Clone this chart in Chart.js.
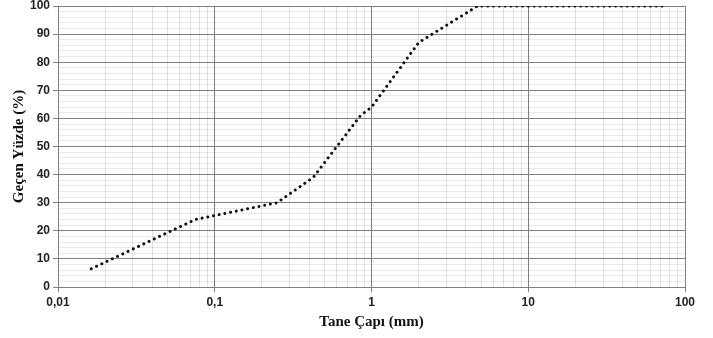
<!DOCTYPE html>
<html>
<head>
<meta charset="utf-8">
<script src="https://cdn.jsdelivr.net/npm/chart.js@4"></script>
<style>
    html, body { margin: 0; padding: 0; background: #fff; }
    #wrap { width: 713px; height: 338px; position: relative; }
</style>
</head>
<body>
<div id="wrap"><canvas id="gradChart"></canvas></div>
<script>
// grain size (mm) and percent passing
const grainSizes = [0.0163, 0.075, 0.25, 0.425, 0.85, 1, 2, 4.75, 75];
const percentPassing = [6.5, 24, 30, 39, 61, 64, 87, 100, 100];

const xMajorTicks = [0.01, 0.1, 1, 10, 100];
const xTickLabels = ['0,01', '0,1', '1', '10', '100'];
const yMajorTicks = [0, 10, 20, 30, 40, 50, 60, 70, 80, 90, 100];

// minor lines are translucent so they don't break the major lines they cross
const MAJOR_GRID = '#7f7f7f';
const MINOR_GRID_X = 'rgba(0,0,0,0.12)';
const MINOR_GRID_Y = 'rgba(0,0,0,0.085)';

const isMajorX = v => xMajorTicks.some(m => Math.abs(m - v) / m < 1e-6);
const isMajorY = v => yMajorTicks.includes(v);

// log grid: 1..9 per decade
const xGridValues = [];
for (let i = 0; i < xMajorTicks.length - 1; i++) {
    for (let d = 1; d <= 9; d++) xGridValues.push(+(xMajorTicks[i] * d).toPrecision(6));
}
xGridValues.push(xMajorTicks[xMajorTicks.length - 1]);

const yGridValues = [];
for (let v = 0; v <= 100; v += 2) yGridValues.push(v);

const tickFont = { family: '"Liberation Sans", Arial, sans-serif', size: 12, weight: 'bold' };
const titleFont = { family: '"Liberation Serif", "Times New Roman", serif', size: 15, weight: 'bold', lineHeight: 1 };

const ctx = document.getElementById('gradChart').getContext('2d');

new Chart(ctx, {
    type: 'line',
    data: {
        datasets: [{
            data: grainSizes.map((x, i) => ({ x: x, y: percentPassing[i] })),
            borderColor: '#111',
            borderWidth: 3,
            borderDash: [0.01, 5.8],
            borderCapStyle: 'round',
            pointRadius: 0,
            tension: 0,
            fill: false
        }]
    },
    options: {
        responsive: true,
        maintainAspectRatio: false,
        animation: false,
        events: [],
        layout: { padding: { left: 4, right: 0, top: 0, bottom: 4.6 } },
        plugins: {
            legend: { display: false },
            tooltip: { enabled: false }
        },
        scales: {
            x: {
                type: 'logarithmic',
                min: 0.01,
                max: 100,
                afterBuildTicks: scale => {
                    scale.ticks = xGridValues.map(v => ({ value: v }));
                },
                afterFit: scale => {
                    scale.paddingLeft = 0;
                    scale.paddingRight = 28;
                },
                ticks: {
                    autoSkip: false,
                    maxRotation: 0,
                    padding: 3,
                    color: '#222',
                    font: tickFont,
                    callback: v => {
                        const i = xMajorTicks.findIndex(m => Math.abs(m - v) / m < 1e-6);
                        return i >= 0 ? xTickLabels[i] : '';
                    }
                },
                grid: {
                    color: c => isMajorX(c.tick.value) ? MAJOR_GRID : MINOR_GRID_X,
                    tickColor: c => isMajorX(c.tick.value) ? MAJOR_GRID : 'rgba(0,0,0,0)',
                    tickLength: 5,
                    lineWidth: 1
                },
                border: { color: MAJOR_GRID },
                title: {
                    display: true,
                    text: 'Tane Çapı (mm)',
                    color: '#111',
                    font: titleFont,
                    padding: { top: 2, bottom: 4 }
                }
            },
            y: {
                min: 0,
                max: 100,
                afterBuildTicks: scale => {
                    scale.ticks = yGridValues.map(v => ({ value: v }));
                },
                afterFit: scale => {
                    scale.paddingTop = 6;
                    scale.paddingBottom = 0;
                },
                ticks: {
                    autoSkip: false,
                    padding: 3,
                    color: '#222',
                    font: tickFont,
                    callback: v => isMajorY(v) ? v : ''
                },
                grid: {
                    color: c => isMajorY(c.tick.value) ? MAJOR_GRID : MINOR_GRID_Y,
                    tickColor: c => isMajorY(c.tick.value) ? MAJOR_GRID : 'rgba(0,0,0,0)',
                    tickLength: 5,
                    lineWidth: 1
                },
                border: { color: MAJOR_GRID },
                title: {
                    display: true,
                    text: 'Geçen Yüzde (%)',
                    color: '#111',
                    font: titleFont,
                    padding: { top: 8, bottom: 0 }
                }
            }
        }
    }
});
</script>
</body>
</html>
